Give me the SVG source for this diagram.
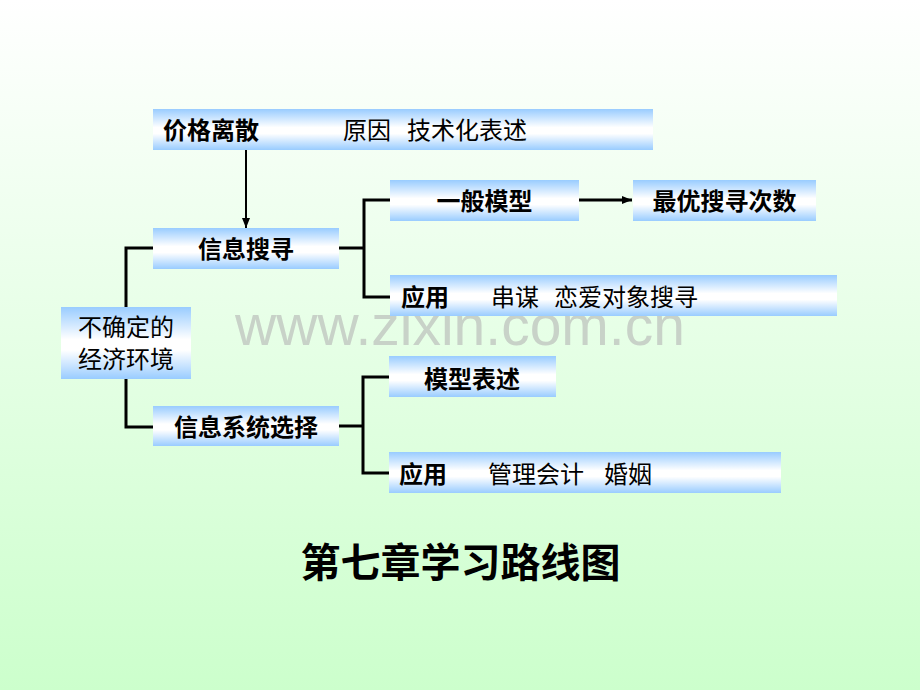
<svg xmlns="http://www.w3.org/2000/svg" width="920" height="690" viewBox="0 0 920 690">
  <defs>
    <linearGradient id="bg" x1="0" y1="0" x2="0" y2="1">
      <stop offset="0" stop-color="#ffffff"/>
      <stop offset="1" stop-color="#ccffcc"/>
    </linearGradient>
    <linearGradient id="box" x1="0" y1="0" x2="0" y2="1">
      <stop offset="0" stop-color="#99ccff"/>
      <stop offset="0.45" stop-color="#ffffff"/>
      <stop offset="0.6" stop-color="#ffffff"/>
      <stop offset="1" stop-color="#99ccff"/>
    </linearGradient>
    <marker id="arr" markerWidth="10" markerHeight="8" refX="10" refY="4" orient="auto" markerUnits="userSpaceOnUse">
      <path d="M0,0 L10,4 L0,8 Z" fill="#000"/>
    </marker>
  </defs>
  <style>
    .box { fill: url(#box); }
    .t { font-family: "Noto Sans CJK SC", "Liberation Sans", sans-serif; font-size: 24px; fill: #000; }
    .b { font-weight: bold; }
    .c { text-anchor: middle; }
    .ln { fill: none; stroke: #000; stroke-width: 3; }
    .ar { fill: none; stroke: #000; stroke-width: 2; }
  </style>
  <rect x="0" y="0" width="920" height="690" fill="url(#bg)"/>
  <text x="460" y="345" text-anchor="middle" font-family="Liberation Sans, Arial, sans-serif" font-size="57" fill="#c8d2c8">www.zixin.com.cn</text>

  <g id="connectors">
    <line class="ar" x1="246" y1="150" x2="246" y2="228" marker-end="url(#arr)"/>
    <line class="ln" x1="579" y1="200" x2="632" y2="200" marker-end="url(#arr)"/>
    <polyline class="ln" points="153,248 126,248 126,307"/>
    <polyline class="ln" points="126,379 126,427 153,427"/>
    <line class="ln" x1="339" y1="248" x2="364" y2="248"/>
    <polyline class="ln" points="390,200 364,200 364,297 390,297"/>
    <line class="ln" x1="339" y1="426" x2="363" y2="426"/>
    <polyline class="ln" points="389,377 363,377 363,473 389,473"/>
  </g>

  <g id="n-jiage">
    <rect class="box" x="153" y="109" width="500" height="41"/>
    <text class="t b" x="163" y="139">价格离散</text>
    <text class="t" x="343" y="139">原因</text>
    <text class="t" x="407" y="139">技术化表述</text>
  </g>
  <g id="n-xinxisousuo">
    <rect class="box" x="153" y="228" width="186" height="41"/>
    <text class="t b c" x="246" y="258">信息搜寻</text>
  </g>
  <g id="n-yibanmoxing">
    <rect class="box" x="390" y="180" width="189" height="41"/>
    <text class="t b c" x="484.5" y="210">一般模型</text>
  </g>
  <g id="n-zuiyou">
    <rect class="box" x="633" y="180" width="183" height="41"/>
    <text class="t b c" x="724.5" y="210">最优搜寻次数</text>
  </g>
  <g id="n-yingyong1">
    <rect class="box" x="390" y="275" width="447" height="41"/>
    <text class="t b" x="401" y="306">应用</text>
    <text class="t" x="491" y="306">串谋</text>
    <text class="t" x="554" y="306">恋爱对象搜寻</text>
  </g>
  <g id="n-buqueding">
    <rect class="box" x="61" y="307" width="130" height="72"/>
    <text class="t c" x="126" y="336">不确定的</text>
    <text class="t c" x="126" y="368">经济环境</text>
  </g>
  <g id="n-moxingbiaoshu">
    <rect class="box" x="389" y="356" width="167" height="41"/>
    <text class="t b c" x="472" y="388">模型表述</text>
  </g>
  <g id="n-xinxixitong">
    <rect class="box" x="153" y="406" width="186" height="40"/>
    <text class="t b c" x="246" y="436">信息系统选择</text>
  </g>
  <g id="n-yingyong2">
    <rect class="box" x="389" y="452" width="392" height="41"/>
    <text class="t b" x="399" y="483">应用</text>
    <text class="t" x="488" y="483">管理会计</text>
    <text class="t" x="604" y="483">婚姻</text>
  </g>
  <g id="title">
    <text x="460.5" y="577" text-anchor="middle" font-family="Noto Sans CJK SC, sans-serif" font-size="40" font-weight="bold" fill="#000">第七章学习路线图</text>
  </g>
</svg>
